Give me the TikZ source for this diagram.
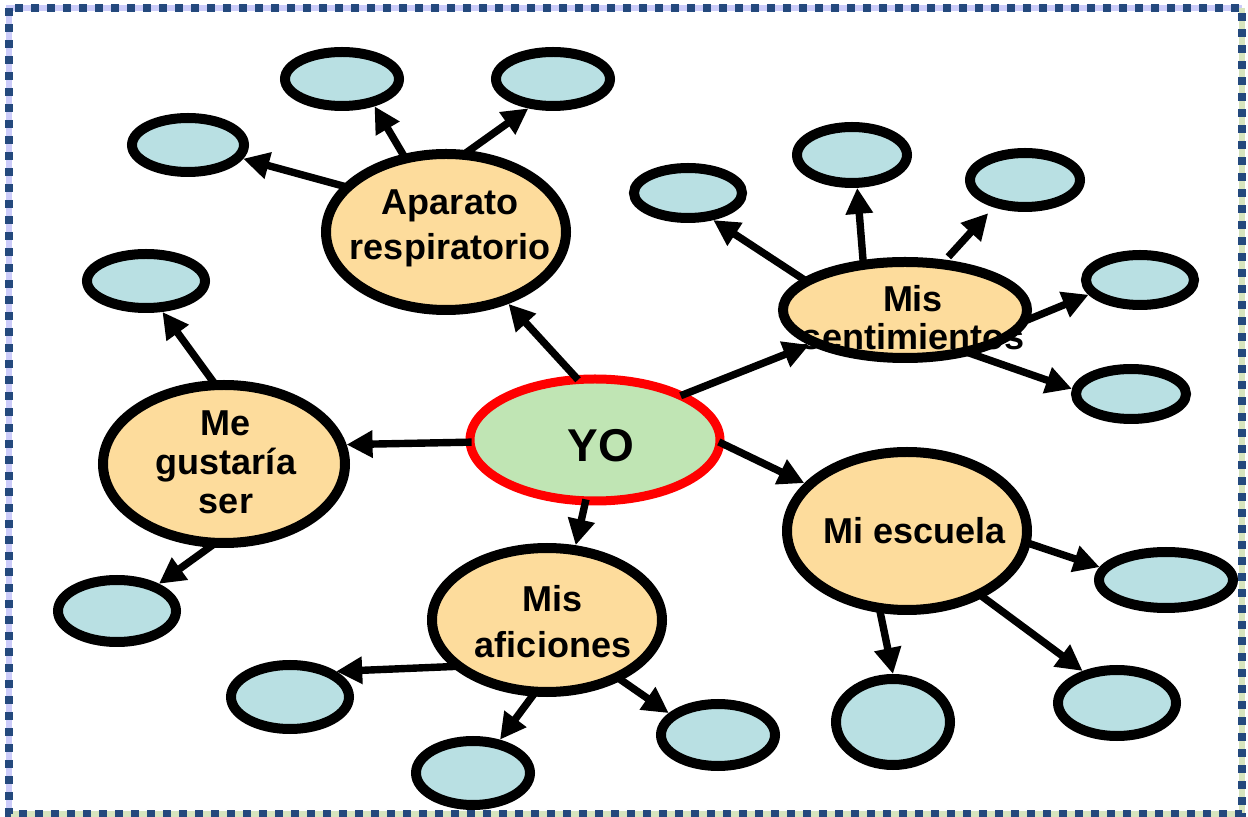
\documentclass[tikz,border=0pt]{standalone}
\usepackage{fontspec}
\setmainfont{Liberation Sans}
\usepackage{xcolor}
\usepackage{tikz}
\usetikzlibrary{arrows.meta,shapes.geometric}
\definecolor{topicfill}{RGB}{253,220,156}
\definecolor{leaffill}{RGB}{185,224,227}
\definecolor{corefill}{RGB}{192,229,180}
\definecolor{framedot}{RGB}{36,73,125}
\definecolor{framelav}{RGB}{204,204,250}
\definecolor{framegrn}{RGB}{215,228,190}

\begin{document}
\begin{tikzpicture}[
      x=0.5pt, y=-0.5pt,
      core/.style={ellipse, draw=red, line width=4.5pt, fill=corefill, inner sep=0pt},
      topic/.style={ellipse, draw=black, line width=5pt, fill=topicfill, inner sep=0pt},
      leaf/.style={ellipse, draw=black, line width=5pt, fill=leaffill, inner sep=0pt},
      lbl/.style={inner sep=0pt, align=center, font=\bfseries\fontsize{18}{21}\selectfont},
      arr/.style={-{Triangle[length=13pt,width=13pt]}, line width=3.7pt, shorten <=-3pt}
    ]
      \useasboundingbox (0,0) rectangle (1248,817);
      \draw[framelav, line width=3pt] (9,814) -- (9,8) -- (1242,8);
      \draw[framegrn, line width=3pt] (1242,8) -- (1242,814) -- (9,814);
      \draw[framedot, line width=4pt, dash pattern=on 4pt off 4pt] (9,8) rectangle (1242,814);

      \node[core, minimum width=125pt, minimum height=61pt] (yo) at (595,440) {};
      \node[topic, minimum width=120pt, minimum height=78pt] (apa) at (446,232) {};
      \node[topic, minimum width=122pt, minimum height=48pt] (sen) at (905,310) {};
      \node[topic, minimum width=120pt, minimum height=79pt] (esc) at (907,531) {};
      \node[topic, minimum width=115pt, minimum height=72pt] (afi) at (547,620) {};
      \node[topic, minimum width=121pt, minimum height=79pt] (gus) at (224,464) {};

      \node[leaf, minimum width=56pt, minimum height=27pt] (apa1) at (188,145) {};
      \node[leaf, minimum width=57pt, minimum height=27pt] (apa2) at (342,79) {};
      \node[leaf, minimum width=57pt, minimum height=27pt] (apa3) at (553,79) {};
      \node[leaf, minimum width=54pt, minimum height=25pt] (sen1) at (688,193) {};
      \node[leaf, minimum width=55pt, minimum height=28pt] (sen2) at (852,155) {};
      \node[leaf, minimum width=55pt, minimum height=27pt] (sen3) at (1025,180) {};
      \node[leaf, minimum width=54pt, minimum height=25pt] (sen4) at (1140,280) {};
      \node[leaf, minimum width=55pt, minimum height=25pt] (sen5) at (1131,394) {};
      \node[leaf, minimum width=67pt, minimum height=28pt] (esc1) at (1166,580) {};
      \node[leaf, minimum width=59pt, minimum height=33pt] (esc2) at (1117,703) {};
      \node[leaf, minimum width=57pt, minimum height=43pt] (esc3) at (893,722) {};
      \node[leaf, minimum width=57pt, minimum height=31pt] (afi1) at (718,735) {};
      \node[leaf, minimum width=57pt, minimum height=32pt] (afi2) at (473,773) {};
      \node[leaf, minimum width=59pt, minimum height=32pt] (afi3) at (290,697) {};
      \node[leaf, minimum width=59pt, minimum height=27pt] (gus1) at (146,281) {};
      \node[leaf, minimum width=59pt, minimum height=31pt] (gus2) at (117,611) {};

      \node[lbl, font=\bfseries\fontsize{23}{26}\selectfont] (yo-t) at (601,446) {YO};
      \node[lbl, font=\bfseries\fontsize{18}{22.5}\selectfont] (apa-t) at (450,228) {Aparato\\respiratorio};
      \node[lbl, font=\bfseries\fontsize{18}{19}\selectfont] (sen-t) at (913,318) {Mis\\sentimientos};
      \node[lbl] (esc-t) at (915,531) {Mi escuela};
      \node[lbl, font=\bfseries\fontsize{18}{23}\selectfont] (afi-t) at (553,622) {Mis\\aficiones};
      \node[lbl, font=\bfseries\fontsize{18}{19.5}\selectfont] (gus-t) at (226,462) {Me\\gustaría\\ser};

      \draw[arr] (yo.108) -- (apa.311);
      \draw[arr] (yo.27) -- (sen.200);
      \draw[arr] (yo.-2) -- (esc.155);
      \draw[arr] (yo.261) -- (afi.69);
      \draw[arr] (yo.181) -- (gus.9);

      \draw[arr] (apa.156) -- (apa1.-14);
      \draw[arr] (apa.119) -- (apa2.-40);
      \draw[arr] (apa.74) -- (apa3.230);

      \draw[arr] (sen.163) -- (sen1.-47);
      \draw[arr] (sen.130) -- (sen2.-81);
      \draw[arr, shorten <=2pt, shorten >=4pt] (sen.51) -- (sen3.221);
      \draw[arr] (sen.-4) -- (sen4.196);
      \draw[arr] (sen.-33) -- (sen5.175);

      \draw[arr] (esc.-6) -- (esc1.169);
      \draw[arr] (esc.-41) -- (esc2.137);
      \draw[arr] (esc.252) -- (esc3.90);

      \draw[arr] (afi.-39) -- (afi1.156);
      \draw[arr] (afi.259) -- (afi2.51);
      \draw[arr] (afi.206) -- (afi3.29);

      \draw[arr] (gus.98) -- (gus1.-62);
      \draw[arr] (gus.260) -- (gus2.33);
    \end{tikzpicture}
\end{document}
